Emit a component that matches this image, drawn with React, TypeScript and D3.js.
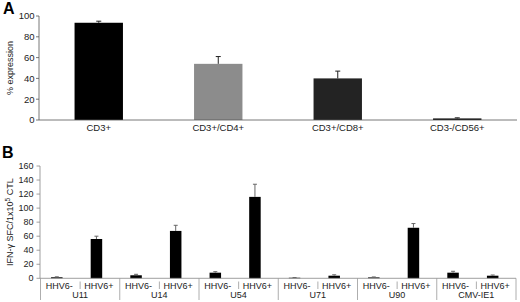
import React from "react";
import * as d3 from "d3";

const categoriesA = ["CD3+", "CD3+/CD4+", "CD3+/CD8+", "CD3-/CD56+"];
const valuesA = [93.5, 54, 40, 1.5];
const errorsA = [1.5, 7, 7, 0.6];
const colorsA = ["#000000", "#8c8c8c", "#232323", "#0a0a0a"];
const ticksA = [0, 20, 40, 60, 80, 100];

const groupsB = ["U11", "U14", "U54", "U71", "U90", "CMV-IE1"];
const subsB = ["HHV6-", "HHV6+"];
const valuesBneg = [1.5, 4.3, 8, 0.8, 1.3, 8];
const errorsBneg = [0.6, 1.4, 1.4, 0.3, 0.6, 2];
const valuesBpos = [56, 67.5, 116, 3.7, 72, 3.7];
const errorsBpos = [4, 8, 18, 1.3, 6, 1];
const ticksB = [0, 20, 40, 60, 80, 100, 120, 140, 160];

const FONT = "Arial, 'Liberation Sans', Helvetica, sans-serif";

export default function App() {
  // Panel A scales
  const xA = d3.scaleBand<string>().domain(categoriesA).range([39, 517]).padding(0);
  const yA = d3.scaleLinear().domain([0, 100]).range([120, 16]);
  const barWA = xA.bandwidth() * 0.405;

  // Panel B scales
  const xG = d3.scaleBand<string>().domain(groupsB).range([40.5, 516]).padding(0);
  const xS = d3.scaleBand<string>().domain(subsB).range([0, xG.bandwidth()]).padding(0);
  const yB = d3.scaleLinear().domain([0, 160]).range([278.3, 166]);
  const barWB = 11.5;
  const offB = -3.5;

  const rowsB = groupsB.flatMap((g, i) => [
    { g, s: subsB[0], v: valuesBneg[i], e: errorsBneg[i] },
    { g, s: subsB[1], v: valuesBpos[i], e: errorsBpos[i] },
  ]);

  return (
    <div style={{ position: "absolute", left: 0, top: 0 }}>
      <svg width={520} height={302} style={{ display: "block", background: "#fff" }} fontFamily={FONT}>
        {/* Panel A */}
        <text x={3} y={14} fontSize={16} fontWeight="bold" fill="#000">A</text>
        <text
          transform={`translate(13,${(yA(0) + yA(100)) / 2}) rotate(-90)`}
          textAnchor="middle"
          fontSize={9}
          fill="#222"
        >
          % expression
        </text>
        {ticksA.map((t) => (
          <g key={"ta" + t}>
            <line x1={36} x2={39} y1={yA(t)} y2={yA(t)} stroke="#555" strokeWidth={0.8} />
            <text x={34.5} y={yA(t)} dy="0.35em" textAnchor="end" fontSize={9.5} fill="#222">
              {t}
            </text>
          </g>
        ))}
        {categoriesA.map((c, i) => {
          const cx = (xA(c) as number) + xA.bandwidth() / 2;
          const top = yA(valuesA[i]);
          const et = yA(valuesA[i] + errorsA[i]);
          return (
            <g key={"ba" + c}>
              <rect x={cx - barWA / 2} y={top} width={barWA} height={yA(0) - top} fill={colorsA[i]} />
              <line x1={cx} x2={cx} y1={top} y2={et} stroke="#222" strokeWidth={1} />
              <line x1={cx - 2.5} x2={cx + 2.5} y1={et} y2={et} stroke="#222" strokeWidth={1} />
              <text x={cx} y={131} textAnchor="middle" fontSize={9.5} fill="#222">
                {c}
              </text>
            </g>
          );
        })}
        <line x1={39} x2={39} y1={yA(100)} y2={yA(0)} stroke="#555" strokeWidth={0.8} />
        <line x1={39} x2={517} y1={yA(0)} y2={yA(0)} stroke="#555" strokeWidth={0.8} />

        {/* Panel B */}
        <text x={2} y={158} fontSize={16} fontWeight="bold" fill="#000">B</text>
        <text
          transform={`translate(13,${(yB(0) + yB(160)) / 2}) rotate(-90)`}
          textAnchor="middle"
          fontSize={9}
          fill="#222"
        >
          IFN-γ SFC/1x10<tspan fontSize={6.5} dy={-3.5}>5</tspan>
          <tspan dy={3.5}> CTL</tspan>
        </text>
        {ticksB.map((t) => (
          <g key={"tb" + t}>
            <line x1={36.5} x2={40} y1={yB(t)} y2={yB(t)} stroke="#888" strokeWidth={0.8} />
            <text x={33.5} y={yB(t)} dy="0.35em" textAnchor="end" fontSize={9} fill="#222">
              {t}
            </text>
          </g>
        ))}
        {rowsB.map((r) => {
          const gx = xG(r.g) as number;
          const cx = gx + (xS(r.s) as number) + xS.bandwidth() / 2 + offB;
          const top = yB(r.v);
          const et = yB(r.v + r.e);
          return (
            <g key={r.g + r.s}>
              <rect x={cx - barWB / 2} y={top} width={barWB} height={yB(0) - top} fill="#000" />
              <line x1={cx} x2={cx} y1={top} y2={et} stroke="#666" strokeWidth={1} />
              <line x1={cx - 2} x2={cx + 2} y1={et} y2={et} stroke="#666" strokeWidth={1} />
            </g>
          );
        })}
        <line x1={40} x2={40} y1={yB(160)} y2={yB(0)} stroke="#888" strokeWidth={0.8} />
        <line x1={40} x2={516} y1={yB(0)} y2={yB(0)} stroke="#888" strokeWidth={0.8} />
        {groupsB.map((g) => {
          const gx = xG(g) as number;
          const mid = gx + xG.bandwidth() / 2;
          return (
            <g key={"gl" + g}>
              {subsB.map((s) => (
                <text
                  key={g + s + "l"}
                  x={gx + (xS(s) as number) + xS.bandwidth() / 2 - 1}
                  y={289}
                  textAnchor="middle"
                  fontSize={9}
                  fill="#222"
                >
                  {s}
                </text>
              ))}
              <line x1={mid} x2={mid} y1={281.5} y2={289} stroke="#999" strokeWidth={0.8} />
              <text x={mid} y={298} textAnchor="middle" fontSize={9} fill="#222">
                {g}
              </text>
            </g>
          );
        })}
        {[...groupsB.map((g) => xG(g) as number), 516].map((x, i) => (
          <line key={"sep" + i} x1={x} x2={x} y1={278.3} y2={300} stroke="#999" strokeWidth={0.8} />
        ))}
      </svg>
    </div>
  );
}
